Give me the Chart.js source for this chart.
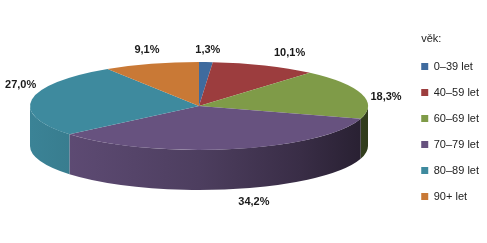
<!DOCTYPE html>
<html>
<head>
<meta charset="utf-8">
<script src="https://cdn.jsdelivr.net/npm/chart.js@4.4.1/dist/chart.umd.min.js"></script>
<style>
  html, body { margin: 0; background: #fff; }
  #wrap { width: 487px; height: 243px; position: relative; }
</style>
</head>
<body>
<div id="wrap"><canvas id="chart"></canvas></div>
<script>
const ageGroups   = ['0–39 let', '40–59 let', '60–69 let', '70–79 let', '80–89 let', '90+ let'];
const shares      = [1.3, 10.1, 18.3, 34.2, 27.0, 9.1];
const sliceColors = ['#3F6B9E', '#9C3D3E', '#7F9B48', '#67527F', '#3E8A9E', '#C97936'];
const legendTitle = 'věk:';

// fake 3D look: the flat pie is squashed onto this ellipse, front wall drawn under it
const VIEW = { cx: 199, cy: 106, rx: 169, ry: 44, depth: 40 };
// Excel puts its labels a bit freely, small per-slice nudges (px)
const labelNudge = [[1, 3], [15, 2], [0, 7], [16, -2], [14, -12], [2, 1]];

Chart.defaults.font.family = "'Liberation Sans', Arial, sans-serif";
Chart.defaults.font.size   = 11;
Chart.defaults.color       = '#222';

function shade(hex, f) {
  const n = parseInt(hex.slice(1), 16);
  const r = Math.round(((n >> 16) & 255) * f);
  const g = Math.round(((n >> 8) & 255) * f);
  const b = Math.round((n & 255) * f);
  return `rgb(${r},${g},${b})`;
}

const fmtPct = v => v.toFixed(1).replace('.', ',') + '%';

const pie3d = {
  id: 'pie3d',
  beforeDatasetsDraw(chart) {
    const arcs = chart.getDatasetMeta(0).data;
    const { ctx } = chart;
    const { cx, cy, rx, ry, depth } = VIEW;

    // front wall, only the part facing us (0..PI)
    arcs.forEach((arc, i) => {
      const s = Math.max(arc.startAngle, 0);
      const e = Math.min(arc.endAngle, Math.PI);
      if (e <= s) return;
      const grad = ctx.createLinearGradient(cx - rx, 0, cx + rx, 0);
      [[0, 0.95], [0.5, 0.75], [0.8, 0.55], [1, 0.38]].forEach(([p, f]) => {
        grad.addColorStop(p, shade(sliceColors[i], f));
      });
      ctx.beginPath();
      ctx.ellipse(cx, cy, rx, ry, 0, s, e);
      ctx.ellipse(cx, cy + depth, rx, ry, 0, e, s, true);
      ctx.closePath();
      ctx.fillStyle = grad;
      ctx.fill();
    });

    // squash the library's own arcs onto the top ellipse
    const { x, y, outerRadius: r } = arcs[0];
    ctx.save();
    ctx.translate(cx, cy);
    ctx.scale(rx / r, ry / r);
    ctx.translate(-x, -y);
  },
  afterDatasetsDraw(chart) {
    const { ctx } = chart;
    ctx.restore();

    const { cx, cy, rx, ry, depth } = VIEW;
    const data = chart.data.datasets[0].data;
    const total = data.reduce((a, b) => a + b, 0);

    ctx.save();
    ctx.font = "bold 11px 'Liberation Sans', Arial, sans-serif";
    ctx.fillStyle = '#1a1a1a';
    ctx.textAlign = 'center';
    ctx.textBaseline = 'middle';
    chart.getDatasetMeta(0).data.forEach((arc, i) => {
      const mid = (arc.startAngle + arc.endAngle) / 2;
      const c = Math.cos(mid), s = Math.sin(mid);
      const text = fmtPct(data[i] / total * 100);
      const w = ctx.measureText(text).width;
      const px = cx + c * rx;
      const py = cy + s * ry + (s > 0 ? depth : 0);
      const lx = px + c * (10 + w / 2) + labelNudge[i][0];
      const ly = py + s * (10 + 5.5) + labelNudge[i][1];
      ctx.fillText(text, lx, ly);
    });
    ctx.restore();
  },
  afterDraw(chart) {
    // legend title flush with the colour boxes (Chart.js puts it at the legend edge)
    const box = chart.legend.legendHitBoxes[0];
    const { ctx } = chart;
    ctx.save();
    ctx.font = "11px 'Liberation Sans', Arial, sans-serif";
    ctx.fillStyle = '#222';
    ctx.textAlign = 'left';
    ctx.textBaseline = 'middle';
    ctx.fillText(legendTitle, box.left, box.top - 22);
    ctx.restore();
  }
};

new Chart(document.getElementById('chart'), {
  type: 'pie',
  data: {
    labels: ageGroups,
    datasets: [{
      data: shares,
      backgroundColor: sliceColors,
      borderWidth: 0,
      clip: false,
    }],
  },
  plugins: [pie3d],
  options: {
    responsive: true,
    maintainAspectRatio: false,
    animation: false,
    layout: { padding: { right: -2 } },
    plugins: {
      tooltip: { enabled: false },
      legend: {
        position: 'right',
        align: 'center',
        title: {
          display: true,
          text: legendTitle,
          position: 'start',
          color: 'rgba(0,0,0,0)',
          font: { size: 11 },
          padding: { top: 7, bottom: 0 },
        },
        labels: {
          boxWidth: 7,
          boxHeight: 7,
          padding: 15,
          color: '#222',
          font: { size: 11 },
        },
      },
    },
  },
});
</script>
</body>
</html>
